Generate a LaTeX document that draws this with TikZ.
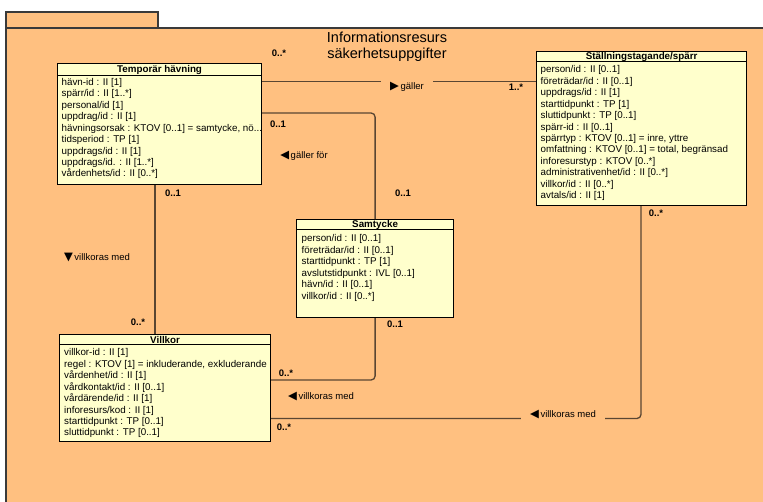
\documentclass[tikz,border=0pt]{standalone}
\usepackage{fontspec}
\setmainfont{Liberation Sans}
\newfontfamily\symfont{DejaVu Sans}
\usetikzlibrary{positioning,calc}
\definecolor{pkg}{HTML}{FFC080}
\definecolor{cls}{HTML}{FFFFCC}
\definecolor{lin}{HTML}{5A4632}
\definecolor{pkb}{HTML}{3A3A3A}
\newcommand{\tri}[1]{{\symfont\fontsize{11.5}{11}\selectfont #1}\,}

\begin{document}
\begin{tikzpicture}[x=1pt,y=-1pt,
  every node/.style={font=\fontsize{9.8}{11.45}\selectfont},
  hd/.style={draw=black,fill=cls,line width=1.2pt,inner sep=0,anchor=north west,font=\fontsize{9.8}{11}\selectfont\bfseries},
  bx/.style={draw=black,fill=cls,line width=1.2pt,inner sep=0,anchor=north west},
  attr/.style={align=left,inner sep=0,anchor=north west},
  ml/.style={font=\fontsize{9.5}{11}\selectfont\bfseries,inner sep=0},
  rl/.style={font=\fontsize{9.5}{11}\selectfont,inner xsep=9pt,inner ysep=2.5pt,fill=pkg},
  conn/.style={draw=lin,line width=1.3pt,rounded corners=4pt}]
\useasboundingbox (0,0) rectangle (763,501);
\clip (0,0) rectangle (763,501);

\draw[pkb,fill=pkg,line width=1.2pt] (6,12) rectangle (158,28);
\draw[pkb,fill=pkg,line width=1.2pt] (6,28) rectangle (790,530);
\node (t0) at (387,47) [align=center,font=\fontsize{14.5}{16}\selectfont] {Informationsresurs\\säkerhetsuppgifter};

\node (h1) at (57,63) [hd,minimum width=204,minimum height=12] {Temporär hävning};
\node (b1) at (57,75) [bx,minimum width=204,minimum height=109] {};
\node (a1) at (61.5,78) [attr] {hävn-id : II [1]\\spärr/id : II [1..*]\\personal/id [1]\\uppdrag/id : II [1]\\hävningsorsak : KTOV [0..1] = samtycke, nö...\\tidsperiod : TP [1]\\uppdrags/id : II [1]\\uppdrags/id. : II [1..*]\\vårdenhets/id : II [0..*]};

\node (h2) at (536,51) [hd,minimum width=210,minimum height=10] {Ställningstagande/spärr};
\node (b2) at (536,61) [bx,minimum width=210,minimum height=144] {};
\node (a2) at (540.5,65.5) [attr] {person/id : II [0..1]\\företrädar/id : II [0..1]\\uppdrags/id : II [1]\\starttidpunkt : TP [1]\\sluttidpunkt : TP [0..1]\\spärr-id : II [0..1]\\spärrtyp : KTOV [0..1] = inre, yttre\\omfattning : KTOV [0..1] = total, begränsad\\inforesurstyp : KTOV [0..*]\\administrativenhet/id : II [0..*]\\villkor/id : II [0..*]\\avtals/id : II [1]};

\node (h3) at (296,219) [hd,minimum width=157,minimum height=10] {Samtycke};
\node (b3) at (296,229) [bx,minimum width=157,minimum height=88] {};
\node (a3) at (301.5,234.5) [attr] {person/id : II [0..1]\\företrädar/id : II [0..1]\\starttidpunkt : TP [1]\\avslutstidpunkt : IVL [0..1]\\hävn/id : II [0..1]\\villkor/id : II [0..*]};

\node (h4) at (59,334) [hd,minimum width=211,minimum height=10] {Villkor};
\node (b4) at (59,344) [bx,minimum width=211,minimum height=97] {};
\node (a4) at (64,348.5) [attr] {villkor-id : II [1]\\regel : KTOV [1] = inkluderande, exkluderande\\vårdenhet/id : II [1]\\vårdkontakt/id : II [0..1]\\vårdärende/id : II [1]\\inforesurs/kod : II [1]\\starttidpunkt : TP [0..1]\\sluttidpunkt : TP [0..1]};

\coordinate (k1) at (400,81.5);
\coordinate (k2) at (374.5,113);
\coordinate (k3) at (155,250);
\coordinate (k4) at (300,380);
\coordinate (k5) at (641,300);
\coordinate (k6) at (400,418.5);

\draw[conn] (k1 -| b1.east) -- (k1 -| b2.west);
\draw[conn] (k2 -| b1.east) -| (h3.north);
\draw[conn] (b1.south -| k3) -- (h4.north -| k3);
\draw[conn] (b3.south) |- (k4 -| b4.east);
\draw[conn] (b2.south -| k5) |- (k6 -| b4.east);

\node (n1) at (279,53) [ml] {0..*};
\node (n2) at (516,87) [ml] {1..*};
\node (n3) at (407,87) [rl] {\tri{▶}gäller};
\node (n4) at (278,124) [ml] {0..1};
\node (n5) at (304,156) [rl,fill=none,inner sep=0] {\tri{◀}gäller för};
\node (n6) at (403,193) [ml] {0..1};
\node (n7) at (173,193) [ml] {0..1};
\node (n8) at (97,258) [rl,fill=none,inner sep=0] {\tri{▼}villkoras med};
\node (n9) at (138,322) [ml] {0..*};
\node (n10) at (395,324) [ml] {0..1};
\node (n11) at (286,373) [ml] {0..*};
\node (n12) at (321,397) [rl,fill=none,inner sep=0] {\tri{◀}villkoras med};
\node (n13) at (563,415) [rl] {\tri{◀}villkoras med};
\node (n14) at (656,213) [ml] {0..*};
\node (n15) at (284,427) [ml] {0..*};
\end{tikzpicture}
\end{document}
